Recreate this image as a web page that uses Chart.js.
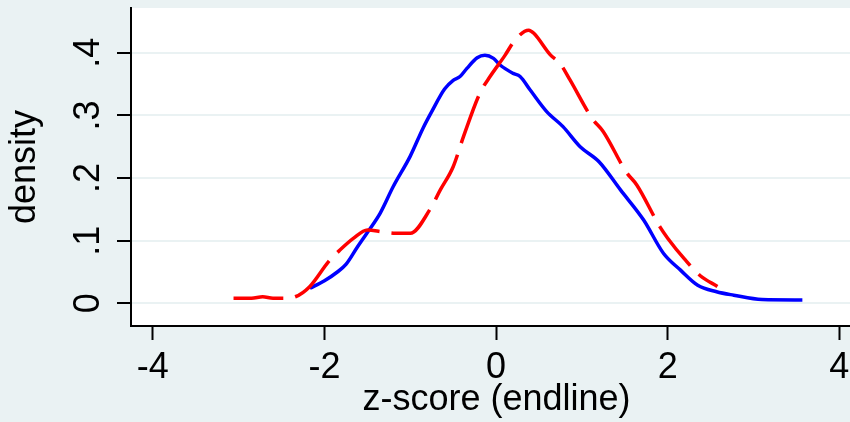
<!DOCTYPE html>
<html>
<head>
<meta charset="utf-8">
<script src="https://cdn.jsdelivr.net/npm/chart.js@4/dist/chart.umd.min.js"></script>
<style>
    html, body { margin: 0; padding: 0; background: #eaf2f3; overflow: hidden; }
    #densityChart { display: block; }
</style>
</head>
<body>
<canvas id="densityChart" width="862" height="422"></canvas>
<script>
// Kernel density curves (z-score, density)
const blueX = [-2.17, -2.0, -1.85, -1.75, -1.62, -1.5, -1.35, -1.2, -1.0, -0.85, -0.75, -0.6, -0.5, -0.42, -0.34, -0.22, -0.13, -0.03, 0.05, 0.2, 0.28, 0.4, 0.59, 0.78, 0.98, 1.2, 1.45, 1.72, 1.95, 2.15, 2.35, 2.57, 2.77, 3.1, 3.57];
const blueY = [0.024, 0.036, 0.05, 0.062, 0.089, 0.113, 0.144, 0.186, 0.235, 0.28, 0.306, 0.342, 0.356, 0.362, 0.375, 0.392, 0.396, 0.391, 0.38, 0.367, 0.362, 0.34, 0.306, 0.282, 0.25, 0.226, 0.181, 0.133, 0.08, 0.053, 0.029, 0.0185, 0.013, 0.006, 0.0053];

const redX = [-3.06, -2.85, -2.72, -2.6, -2.48, -2.34, -2.17, -1.95, -1.82, -1.66, -1.5, -1.33, -1.18, -1.0, -0.77, -0.65, -0.5, -0.38, -0.19, -0.07, 0.1, 0.22, 0.38, 0.44, 0.63, 0.75, 0.86, 1.12, 1.25, 1.52, 1.64, 1.91, 2.0, 2.2, 2.38, 2.58];
const redY = [0.008, 0.008, 0.0105, 0.008, 0.008, 0.0105, 0.027, 0.067, 0.085, 0.104, 0.117, 0.1143, 0.112, 0.1117, 0.15, 0.181, 0.218, 0.266, 0.335, 0.362, 0.395, 0.42, 0.436, 0.431, 0.397, 0.382, 0.357, 0.295, 0.274, 0.209, 0.189, 0.122, 0.104, 0.07, 0.044, 0.027];

const xTicks = [-4, -2, 0, 2, 4];
const yTicks = [0, 0.1, 0.2, 0.3, 0.4];
const yTickLabels = ['0', '.1', '.2', '.3', '.4'];

const FONT = '"Liberation Sans", Arial, sans-serif';
const BG = '#eaf2f3';

function toPoints(xs, ys) {
    return xs.map((x, i) => ({ x: x, y: ys[i] }));
}

// white plot region + rotated y tick labels (Stata style)
const stataLook = {
    id: 'stataLook',
    beforeDraw(chart) {
        const { ctx, chartArea } = chart;
        ctx.save();
        ctx.fillStyle = BG;
        ctx.fillRect(0, 0, chart.width, chart.height);
        ctx.fillStyle = '#ffffff';
        ctx.fillRect(chartArea.left, chartArea.top, chartArea.right - chartArea.left, chartArea.bottom - chartArea.top);
        ctx.restore();
    },
    afterDraw(chart) {
        const { ctx } = chart;
        const yScale = chart.scales.y;
        ctx.save();
        ctx.fillStyle = '#000';
        ctx.font = '36px ' + FONT;
        ctx.textAlign = 'center';
        ctx.textBaseline = 'alphabetic';
        yTicks.forEach((v, i) => {
            ctx.save();
            ctx.translate(99, yScale.getPixelForValue(v));
            ctx.rotate(-Math.PI / 2);
            ctx.fillText(yTickLabels[i], 0, 0);
            ctx.restore();
        });
        ctx.restore();
    }
};

new Chart(document.getElementById('densityChart'), {
    type: 'line',
    data: {
        datasets: [
            {
                label: 'red',
                data: toPoints(redX, redY),
                borderColor: '#ff0000',
                borderWidth: 3.5,
                borderDash: [50, 12],
                borderCapStyle: 'butt',
                pointRadius: 0,
                fill: false,
                cubicInterpolationMode: 'monotone'
            },
            {
                label: 'blue',
                data: toPoints(blueX, blueY),
                borderColor: '#0000ff',
                borderWidth: 3.5,
                pointRadius: 0,
                fill: false,
                cubicInterpolationMode: 'monotone'
            }
        ]
    },
    options: {
        responsive: false,
        animation: false,
        events: [],
        layout: { padding: { top: 8, left: 0, right: 0, bottom: 0 } },
        plugins: {
            legend: { display: false },
            tooltip: { enabled: false }
        },
        scales: {
            x: {
                type: 'linear',
                min: -4.255,
                max: 4.265,
                afterBuildTicks: (scale) => { scale.ticks = xTicks.map(v => ({ value: v })); },
                afterFit: (scale) => { scale.height = 96; },
                grid: {
                    drawOnChartArea: false,
                    drawTicks: true,
                    tickLength: 14,
                    tickColor: '#000',
                    tickWidth: 2
                },
                border: { display: true, color: '#000', width: 2 },
                ticks: {
                    color: '#000',
                    padding: 6,
                    maxRotation: 0,
                    font: { family: FONT, size: 36 },
                    callback: (val) => String(val)
                },
                title: {
                    display: true,
                    text: 'z-score (endline)',
                    color: '#000',
                    font: { family: FONT, size: 36 },
                    padding: { top: 0, bottom: 0 }
                }
            },
            y: {
                type: 'linear',
                min: -0.0362,
                max: 0.4714,
                afterBuildTicks: (scale) => { scale.ticks = yTicks.map(v => ({ value: v })); },
                afterFit: (scale) => { scale.width = 131; },
                grid: {
                    color: BG,
                    lineWidth: 2,
                    drawTicks: true,
                    tickLength: 14,
                    tickColor: '#000',
                    tickWidth: 2
                },
                border: { display: true, color: '#000', width: 2 },
                ticks: { display: false },
                title: {
                    display: true,
                    text: 'density',
                    color: '#000',
                    font: { family: FONT, size: 36 },
                    padding: { top: 3, bottom: 0 }
                }
            }
        }
    },
    plugins: [stataLook]
});
</script>
</body>
</html>
